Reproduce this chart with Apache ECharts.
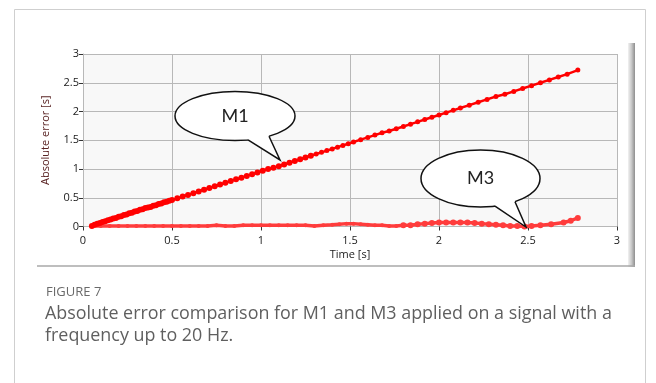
<!DOCTYPE html>
<html>
<head>
<meta charset="utf-8">
<script src="https://cdn.jsdelivr.net/npm/echarts@6/dist/echarts.min.js"></script>
<style>
html,body{margin:0;padding:0;background:#fff;}
#c{width:656px;height:383px;}
</style>
</head>
<body>
<div id="c"></div>
<script>
// ---- data ----
var m1Time = [0.05,0.065,0.08,0.095,0.11,0.125,0.14,0.155,0.17,0.185,0.20,0.215,0.23,0.245,0.26,0.275,0.29,0.305,0.32,0.335,0.35,0.365,0.38,0.395,0.41,0.425,0.44,0.455,0.47,0.485,0.50,0.53,0.56,0.59,0.62,0.65,0.68,0.71,0.74,0.77,0.80,0.83,0.86,0.89,0.92,0.95,0.98,1.01,1.04,1.07,1.10,1.13,1.16,1.19,1.22,1.25,1.28,1.31,1.34,1.37,1.40,1.43,1.46,1.49,1.52,1.56,1.60,1.64,1.68,1.72,1.76,1.80,1.84,1.88,1.92,1.96,2.00,2.04,2.08,2.12,2.17,2.22,2.27,2.32,2.37,2.42,2.47,2.52,2.57,2.62,2.67,2.72,2.78];
var m1Error = [0.01,0.03,0.05,0.06,0.08,0.09,0.11,0.12,0.14,0.15,0.17,0.18,0.20,0.21,0.23,0.24,0.26,0.27,0.29,0.30,0.32,0.33,0.34,0.36,0.37,0.39,0.40,0.42,0.43,0.45,0.46,0.49,0.52,0.55,0.58,0.61,0.64,0.67,0.70,0.73,0.76,0.79,0.82,0.85,0.88,0.91,0.94,0.97,1.00,1.02,1.05,1.08,1.11,1.14,1.17,1.20,1.23,1.26,1.29,1.32,1.35,1.38,1.41,1.44,1.47,1.51,1.55,1.59,1.63,1.66,1.70,1.74,1.78,1.82,1.86,1.90,1.94,1.98,2.02,2.06,2.11,2.16,2.21,2.26,2.30,2.35,2.40,2.45,2.50,2.55,2.60,2.65,2.72];

var m3Time = [0.05,0.10,0.15,0.20,0.25,0.30,0.35,0.40,0.45,0.50,0.55,0.60,0.65,0.70,0.75,0.80,0.85,0.90,0.95,1.00,1.05,1.10,1.15,1.20,1.25,1.30,1.35,1.40,1.44,1.48,1.52,1.56,1.60,1.64,1.68,1.72,1.76,1.80,1.84,1.88,1.92,1.96,2.00,2.04,2.08,2.12,2.16,2.20,2.24,2.28,2.32,2.36,2.40,2.44,2.48,2.52,2.57,2.63,2.70,2.74,2.78];
var m3Error = [0.01,0.01,0.01,0.01,0.01,0.01,0.01,0.01,0.01,0.01,0.01,0.01,0.01,0.01,0.02,0.01,0.01,0.02,0.02,0.02,0.02,0.02,0.02,0.02,0.02,0.01,0.02,0.03,0.04,0.05,0.05,0.04,0.03,0.02,0.02,0.01,0.01,0.02,0.02,0.04,0.05,0.06,0.07,0.07,0.07,0.07,0.07,0.06,0.05,0.04,0.03,0.02,0.01,0.01,0.00,0.01,0.02,0.04,0.07,0.10,0.15];

var xTicks = ['0','0.5','1','1.5','2','2.5','3'];
var captionTitle = 'FIGURE 7';
var captionLines = ['Absolute error comparison for M1 and M3 applied on a signal with a', 'frequency up to 20 Hz.'];

function pairs(t, v){ var out=[]; for (var i=0;i<t.length;i++) out.push([t[i], v[i]]); return out; }

var chart = echarts.init(document.getElementById('c'), null, {renderer:'canvas'});

var axisFont = {fontFamily:'Open Sans', fontSize:11, color:'#1a1a1a'};

function callout(cx, cy, rx, ry, bl, br, tip, label) {
  return [
    {type:'ellipse', z:100, shape:{cx:cx, cy:cy, rx:rx, ry:ry}, style:{fill:'#fff', stroke:'#111', lineWidth:1.5}},
    {type:'polygon', z:101, shape:{points:[[bl[0]+1,bl[1]-4],[bl[0],bl[1]],tip,[br[0],br[1]],[br[0]-1,br[1]-4]]}, style:{fill:'#fff'}},
    {type:'polyline', z:102, shape:{points:[bl, tip, br]}, style:{stroke:'#111', lineWidth:1.5, fill:null}},
    {type:'text', z:103, x:cx, y:cy, style:{text:label, fontFamily:'Lato', fontSize:18, fill:'#222', align:'center', verticalAlign:'middle'}}
  ];
}

var graphics = [
  {type:'rect', z:-10, shape:{x:14.5, y:9.5, width:631, height:420}, style:{fill:'none', stroke:'#cfcfcf', lineWidth:1}},
  {type:'rect', z:-5, shape:{x:628, y:43, width:7, height:224}, style:{fill:new echarts.graphic.LinearGradient(0,0,1,0,[{offset:0,color:'#f2f2f2'},{offset:0.5,color:'#c8c8c8'},{offset:1,color:'#8e8e8e'}])}},
  {type:'line', z:-5, shape:{x1:37, y1:266, x2:635, y2:266}, style:{stroke:'#a8a8a8', lineWidth:1.5}},
  {type:'text', x:46, y:292, style:{text:captionTitle, fontFamily:'Open Sans', fontSize:13, fill:'#6a6a6a', verticalAlign:'middle'}},
  {type:'text', x:45, y:314, style:{text:captionLines[0], fontFamily:'Open Sans', fontSize:17.9, fill:'#5f5f5f', verticalAlign:'middle'}},
  {type:'text', x:45, y:336, style:{text:captionLines[1], fontFamily:'Open Sans', fontSize:17.9, fill:'#5f5f5f', verticalAlign:'middle'}}
];
graphics = graphics.concat(callout(235, 116, 60, 24.5, [248,139.9], [269,136.2], [280,160], 'M1'));
graphics = graphics.concat(callout(480.5, 178.5, 59.5, 28.5, [495,206.1], [515,201.7], [526,227], 'M3'));

chart.setOption({
  animation:false,
  backgroundColor:'#fff',
  grid:{left:83, right:39, top:54, bottom:156.5, show:true, backgroundColor:'#f8f8f8', borderWidth:0},
  xAxis:{
    type:'value', min:0, max:3, interval:0.5,
    name:'Time [s]', nameLocation:'middle', nameGap:23,
    nameTextStyle:{fontFamily:'Open Sans', fontSize:11, color:'#1a1a1a'},
    axisLine:{show:false},
    axisTick:{show:true, length:4, lineStyle:{color:'#333'}},
    axisLabel:Object.assign({margin:9, formatter:function(v){ return xTicks[Math.round(v/0.5)]; }}, axisFont),
    splitLine:{show:true, lineStyle:{color:'#b8b8b8', width:1}}
  },
  yAxis:{
    type:'value', min:0, max:3, interval:0.5,
    name:'Absolute error [s]', nameLocation:'middle', nameGap:32, nameRotate:90,
    nameTextStyle:{fontFamily:'Open Sans', fontSize:11, color:'#5a2424'},
    axisLine:{show:true, lineStyle:{color:'#b8b8b8'}},
    axisTick:{show:true, length:4, lineStyle:{color:'#333'}},
    axisLabel:Object.assign({margin:4, formatter:function(v){ return xTicks[Math.round(v/0.5)]; }}, axisFont),
    splitLine:{show:true, lineStyle:{color:'#b8b8b8', width:1}}
  },
  series:[
    {type:'line', name:'M3', data:pairs(m3Time, m3Error), symbol:'circle',
     symbolSize:function(v){ return v[0] < 1.8 ? 4 : 6; }, showSymbol:true,
     lineStyle:{color:'#ff3c3c', width:3.5}, itemStyle:{color:'#ff3c3c'}, z:2},
    {type:'line', name:'M1', data:pairs(m1Time, m1Error), symbol:'circle',
     symbolSize:function(v){ return v[0] < 1.3 ? 6 : 5; }, showSymbol:true,
     lineStyle:{color:'#ff0000', width:2.5}, itemStyle:{color:'#ff0000'}, z:3}
  ],
  graphic:graphics
});
</script>
</body>
</html>
